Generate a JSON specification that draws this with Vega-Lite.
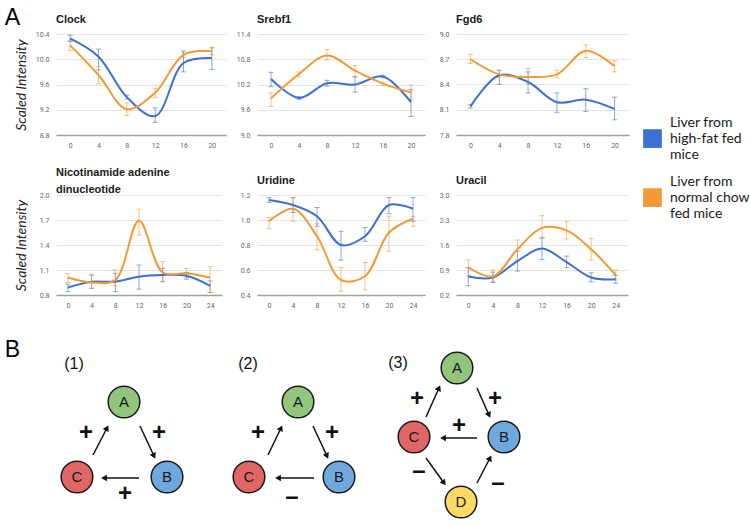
{
  "$schema": "https://vega.github.io/schema/vega-lite/v6.json",
  "padding": {"left": 4, "top": 7, "right": 0, "bottom": 0},
  "title": {"text": "A", "anchor": "start", "frame": "bounds", "font": "Liberation Sans", "fontSize": 23, "fontWeight": "normal", "color": "#000000", "offset": -34, "baseline": "alphabetic"},
  "columns": 3,
  "align": "each",
  "bounds": "flush",
  "spacing": {"row": 60, "column": 31},
  "datasets": {
    "expr": [
      {"gene":"Clock","grp":"hf","t":0,"v":10.33,"lo":10.28,"hi":10.38},
      {"gene":"Clock","grp":"hf","t":4,"v":10.04,"lo":9.83,"hi":10.16},
      {"gene":"Clock","grp":"hf","t":8,"v":9.40,"lo":9.37,"hi":9.43},
      {"gene":"Clock","grp":"hf","t":12,"v":9.10,"lo":9.00,"hi":9.23},
      {"gene":"Clock","grp":"hf","t":16,"v":9.94,"lo":9.80,"hi":10.13},
      {"gene":"Clock","grp":"hf","t":20,"v":10.02,"lo":9.84,"hi":10.18},
      {"gene":"Clock","grp":"chow","t":0,"v":10.22,"lo":10.14,"hi":10.30},
      {"gene":"Clock","grp":"chow","t":4,"v":9.75,"lo":9.61,"hi":9.88},
      {"gene":"Clock","grp":"chow","t":8,"v":9.21,"lo":9.11,"hi":9.31},
      {"gene":"Clock","grp":"chow","t":12,"v":9.47,"lo":9.39,"hi":9.54},
      {"gene":"Clock","grp":"chow","t":16,"v":10.07,"lo":10.03,"hi":10.10},
      {"gene":"Clock","grp":"chow","t":20,"v":10.13,"lo":10.07,"hi":10.19},
      {"gene":"Srebf1","grp":"hf","t":0,"v":10.33,"lo":10.15,"hi":10.49},
      {"gene":"Srebf1","grp":"hf","t":4,"v":9.88,"lo":9.85,"hi":9.91},
      {"gene":"Srebf1","grp":"hf","t":8,"v":10.23,"lo":10.16,"hi":10.30},
      {"gene":"Srebf1","grp":"hf","t":12,"v":10.20,"lo":10.02,"hi":10.38},
      {"gene":"Srebf1","grp":"hf","t":16,"v":10.39,"lo":10.36,"hi":10.42},
      {"gene":"Srebf1","grp":"hf","t":20,"v":9.78,"lo":9.44,"hi":10.08},
      {"gene":"Srebf1","grp":"chow","t":0,"v":9.87,"lo":9.68,"hi":10.00},
      {"gene":"Srebf1","grp":"chow","t":4,"v":10.45,"lo":10.38,"hi":10.50},
      {"gene":"Srebf1","grp":"chow","t":8,"v":10.89,"lo":10.78,"hi":11.03},
      {"gene":"Srebf1","grp":"chow","t":12,"v":10.53,"lo":10.39,"hi":10.65},
      {"gene":"Srebf1","grp":"chow","t":16,"v":10.22,"lo":10.18,"hi":10.26},
      {"gene":"Srebf1","grp":"chow","t":20,"v":10.01,"lo":9.85,"hi":10.19},
      {"gene":"Fgd6","grp":"hf","t":0,"v":8.14,"lo":8.12,"hi":8.16},
      {"gene":"Fgd6","grp":"hf","t":4,"v":8.51,"lo":8.40,"hi":8.57},
      {"gene":"Fgd6","grp":"hf","t":8,"v":8.43,"lo":8.30,"hi":8.55},
      {"gene":"Fgd6","grp":"hf","t":12,"v":8.19,"lo":8.07,"hi":8.30},
      {"gene":"Fgd6","grp":"hf","t":16,"v":8.22,"lo":8.08,"hi":8.35},
      {"gene":"Fgd6","grp":"hf","t":20,"v":8.11,"lo":7.98,"hi":8.25},
      {"gene":"Fgd6","grp":"chow","t":0,"v":8.70,"lo":8.65,"hi":8.76},
      {"gene":"Fgd6","grp":"chow","t":4,"v":8.52,"lo":8.49,"hi":8.57},
      {"gene":"Fgd6","grp":"chow","t":8,"v":8.49,"lo":8.41,"hi":8.59},
      {"gene":"Fgd6","grp":"chow","t":12,"v":8.52,"lo":8.48,"hi":8.57},
      {"gene":"Fgd6","grp":"chow","t":16,"v":8.80,"lo":8.72,"hi":8.87},
      {"gene":"Fgd6","grp":"chow","t":20,"v":8.62,"lo":8.55,"hi":8.68},
      {"gene":"NAD","grp":"hf","t":0,"v":0.89,"lo":0.84,"hi":0.93},
      {"gene":"NAD","grp":"hf","t":4,"v":0.96,"lo":0.88,"hi":1.04},
      {"gene":"NAD","grp":"hf","t":8,"v":0.96,"lo":0.84,"hi":1.06},
      {"gene":"NAD","grp":"hf","t":12,"v":1.02,"lo":0.87,"hi":1.16},
      {"gene":"NAD","grp":"hf","t":16,"v":1.04,"lo":0.96,"hi":1.12},
      {"gene":"NAD","grp":"hf","t":20,"v":1.03,"lo":0.99,"hi":1.07},
      {"gene":"NAD","grp":"hf","t":24,"v":0.91,"lo":0.83,"hi":0.97},
      {"gene":"NAD","grp":"chow","t":0,"v":1.01,"lo":0.95,"hi":1.06},
      {"gene":"NAD","grp":"chow","t":4,"v":0.95,"lo":0.88,"hi":1.04},
      {"gene":"NAD","grp":"chow","t":8,"v":0.98,"lo":0.91,"hi":1.10},
      {"gene":"NAD","grp":"chow","t":12,"v":1.69,"lo":1.52,"hi":1.83},
      {"gene":"NAD","grp":"chow","t":16,"v":1.07,"lo":0.96,"hi":1.20},
      {"gene":"NAD","grp":"chow","t":20,"v":1.06,"lo":1.01,"hi":1.12},
      {"gene":"NAD","grp":"chow","t":24,"v":1.01,"lo":0.83,"hi":1.14},
      {"gene":"Uridine","grp":"hf","t":0,"v":1.16,"lo":1.14,"hi":1.18},
      {"gene":"Uridine","grp":"hf","t":4,"v":1.12,"lo":1.06,"hi":1.18},
      {"gene":"Uridine","grp":"hf","t":8,"v":1.03,"lo":0.95,"hi":1.10},
      {"gene":"Uridine","grp":"hf","t":12,"v":0.80,"lo":0.68,"hi":0.91},
      {"gene":"Uridine","grp":"hf","t":16,"v":0.87,"lo":0.83,"hi":0.94},
      {"gene":"Uridine","grp":"hf","t":20,"v":1.12,"lo":1.05,"hi":1.18},
      {"gene":"Uridine","grp":"hf","t":24,"v":1.09,"lo":0.99,"hi":1.18},
      {"gene":"Uridine","grp":"chow","t":0,"v":0.99,"lo":0.93,"hi":1.02},
      {"gene":"Uridine","grp":"chow","t":4,"v":1.09,"lo":0.99,"hi":1.18},
      {"gene":"Uridine","grp":"chow","t":8,"v":0.87,"lo":0.76,"hi":0.97},
      {"gene":"Uridine","grp":"chow","t":12,"v":0.52,"lo":0.43,"hi":0.62},
      {"gene":"Uridine","grp":"chow","t":16,"v":0.55,"lo":0.44,"hi":0.66},
      {"gene":"Uridine","grp":"chow","t":20,"v":0.90,"lo":0.75,"hi":1.03},
      {"gene":"Uridine","grp":"chow","t":24,"v":1.01,"lo":0.95,"hi":1.03},
      {"gene":"Uracil","grp":"hf","t":0,"v":0.72,"lo":0.46,"hi":0.97},
      {"gene":"Uracil","grp":"hf","t":4,"v":0.69,"lo":0.55,"hi":0.84},
      {"gene":"Uracil","grp":"hf","t":8,"v":1.15,"lo":0.87,"hi":1.43},
      {"gene":"Uracil","grp":"hf","t":12,"v":1.50,"lo":1.19,"hi":1.80},
      {"gene":"Uracil","grp":"hf","t":16,"v":1.12,"lo":0.97,"hi":1.29},
      {"gene":"Uracil","grp":"hf","t":20,"v":0.69,"lo":0.57,"hi":0.82},
      {"gene":"Uracil","grp":"hf","t":24,"v":0.64,"lo":0.53,"hi":0.75},
      {"gene":"Uracil","grp":"chow","t":0,"v":0.97,"lo":0.74,"hi":1.18},
      {"gene":"Uracil","grp":"chow","t":4,"v":0.72,"lo":0.57,"hi":0.90},
      {"gene":"Uracil","grp":"chow","t":8,"v":1.48,"lo":1.18,"hi":1.74},
      {"gene":"Uracil","grp":"chow","t":12,"v":2.08,"lo":1.80,"hi":2.42},
      {"gene":"Uracil","grp":"chow","t":16,"v":2.01,"lo":1.77,"hi":2.26},
      {"gene":"Uracil","grp":"chow","t":20,"v":1.48,"lo":1.18,"hi":1.78},
      {"gene":"Uracil","grp":"chow","t":24,"v":0.76,"lo":0.62,"hi":0.90}
    ],
    "nodes": [
      {"diagram":1,"node":"A","x":68,"y":47},
      {"diagram":1,"node":"C","x":21,"y":122},
      {"diagram":1,"node":"B","x":111,"y":122},
      {"diagram":2,"node":"A","x":242,"y":47},
      {"diagram":2,"node":"C","x":193,"y":122},
      {"diagram":2,"node":"B","x":283,"y":122},
      {"diagram":3,"node":"A","x":401,"y":13},
      {"diagram":3,"node":"C","x":358,"y":82},
      {"diagram":3,"node":"B","x":448,"y":82},
      {"diagram":3,"node":"D","x":405,"y":147}
    ],
    "edges": [
      {"diagram":1,"from":"C","to":"A","x1":37,"y1":100,"x2":51,"y2":73,"angle":27.4},
      {"diagram":1,"from":"A","to":"B","x1":84,"y1":71,"x2":98,"y2":101,"angle":155},
      {"diagram":1,"from":"B","to":"C","x1":83,"y1":123,"x2":48,"y2":123,"angle":270},
      {"diagram":2,"from":"C","to":"A","x1":212,"y1":100,"x2":225,"y2":73,"angle":25.7},
      {"diagram":2,"from":"A","to":"B","x1":257,"y1":71,"x2":271,"y2":101,"angle":155},
      {"diagram":2,"from":"B","to":"C","x1":258,"y1":123,"x2":222,"y2":123,"angle":270},
      {"diagram":3,"from":"C","to":"A","x1":370,"y1":62,"x2":383,"y2":33,"angle":24.1},
      {"diagram":3,"from":"A","to":"B","x1":421,"y1":33,"x2":433,"y2":60,"angle":156},
      {"diagram":3,"from":"B","to":"C","x1":421,"y1":83,"x2":387,"y2":83,"angle":270},
      {"diagram":3,"from":"C","to":"D","x1":370,"y1":103,"x2":388,"y2":128,"angle":144.2},
      {"diagram":3,"from":"D","to":"B","x1":421,"y1":128,"x2":434,"y2":103,"angle":27.5}
    ],
    "signs": [
      {"diagram":1,"sign":"+","x":30,"y":78},
      {"diagram":1,"sign":"+","x":103,"y":78},
      {"diagram":1,"sign":"+","x":69,"y":139},
      {"diagram":2,"sign":"+","x":202,"y":78},
      {"diagram":2,"sign":"+","x":276,"y":78},
      {"diagram":2,"sign":"–","x":236,"y":142},
      {"diagram":3,"sign":"+","x":361,"y":44},
      {"diagram":3,"sign":"+","x":439,"y":44},
      {"diagram":3,"sign":"+","x":403,"y":71},
      {"diagram":3,"sign":"–","x":363,"y":116},
      {"diagram":3,"sign":"–","x":442,"y":128}
    ],
    "captions": [
      {"text":"(1)","x":18,"y":9},
      {"text":"(2)","x":192,"y":9},
      {"text":"(3)","x":342,"y":8}
    ],
    "panel": [
      {"text":"B","x":-43.5,"y":-5}
    ]
  },
  "concat": [
    {
      "width": 170, "height": 101,
      "title": {"text": "Clock"},
      "data": {"name": "expr"},
      "transform": [{"filter": "datum.gene === 'Clock'"}],
      "encoding": {
        "x": {"field": "t", "type": "quantitative", "scale": {"domain": [-2, 22], "nice": false, "zero": false}, "axis": {"values": [0, 4, 8, 12, 16, 20], "title": null}},
        "color": {"field": "grp", "type": "nominal", "scale": {"domain": ["hf", "chow"], "range": ["#3d70d4", "#f29a35"]}, "legend": {"orient": "none", "legendX": 587, "legendY": 79, "title": null, "symbolType": "M-1,0.72H1V2.72H-1Z", "symbolSize": 350, "symbolStrokeWidth": 0, "symbolOpacity": 1, "labelFont": "Lato", "labelFontSize": 14, "labelColor": "#1a1a1a", "labelOffset": 8, "rowPadding": 10, "labelLimit": 300, "labelExpr": "datum.value === 'hf' ? ['Liver from', 'high-fat fed', 'mice'] : ['Liver from', 'normal chow', 'fed mice']"}}
      },
      "layer": [
        {"mark": {"type": "errorbar", "ticks": {"size": 5}, "rule": {"strokeWidth": 1}, "opacity": 0.6},
         "encoding": {"y": {"field": "lo", "type": "quantitative", "scale": {"domain": [8.8, 10.4], "nice": false, "zero": false}, "axis": {"values": [8.8, 9.2, 9.6, 10, 10.4], "format": ".1f", "title": "Scaled Intensity", "titlePadding": 7}}, "y2": {"field": "hi"}}},
        {"mark": {"type": "line", "interpolate": "catmull-rom", "strokeWidth": 2},
         "encoding": {"y": {"field": "v", "type": "quantitative", "axis": {"values": [8.8, 9.2, 9.6, 10, 10.4], "format": ".1f", "title": "Scaled Intensity", "titlePadding": 7}}}}
      ]
    },
    {
      "width": 168, "height": 101,
      "title": {"text": "Srebf1"},
      "data": {"name": "expr"},
      "transform": [{"filter": "datum.gene === 'Srebf1'"}],
      "encoding": {
        "x": {"field": "t", "type": "quantitative", "scale": {"domain": [-2, 22], "nice": false, "zero": false}, "axis": {"values": [0, 4, 8, 12, 16, 20], "title": null}},
        "color": {"field": "grp", "type": "nominal", "scale": {"domain": ["hf", "chow"], "range": ["#3d70d4", "#f29a35"]}, "legend": {"orient": "none", "legendX": 587, "legendY": 79, "title": null, "symbolType": "M-1,0.72H1V2.72H-1Z", "symbolSize": 350, "symbolStrokeWidth": 0, "symbolOpacity": 1, "labelFont": "Lato", "labelFontSize": 14, "labelColor": "#1a1a1a", "labelOffset": 8, "rowPadding": 10, "labelLimit": 300, "labelExpr": "datum.value === 'hf' ? ['Liver from', 'high-fat fed', 'mice'] : ['Liver from', 'normal chow', 'fed mice']"}}
      },
      "layer": [
        {"mark": {"type": "errorbar", "ticks": {"size": 5}, "rule": {"strokeWidth": 1}, "opacity": 0.6},
         "encoding": {"y": {"field": "lo", "type": "quantitative", "scale": {"domain": [9.0, 11.4], "nice": false, "zero": false}, "axis": {"values": [9.0, 9.6, 10.2, 10.8, 11.4], "format": ".1f", "title": null}}, "y2": {"field": "hi"}}},
        {"mark": {"type": "line", "interpolate": "catmull-rom", "strokeWidth": 2},
         "encoding": {"y": {"field": "v", "type": "quantitative", "axis": {"values": [9.0, 9.6, 10.2, 10.8, 11.4], "format": ".1f", "title": null}}}}
      ]
    },
    {
      "width": 173, "height": 101,
      "title": {"text": "Fgd6"},
      "data": {"name": "expr"},
      "transform": [{"filter": "datum.gene === 'Fgd6'"}],
      "encoding": {
        "x": {"field": "t", "type": "quantitative", "scale": {"domain": [-2, 22], "nice": false, "zero": false}, "axis": {"values": [0, 4, 8, 12, 16, 20], "title": null}},
        "color": {"field": "grp", "type": "nominal", "scale": {"domain": ["hf", "chow"], "range": ["#3d70d4", "#f29a35"]}, "legend": {"orient": "none", "legendX": 587, "legendY": 79, "title": null, "symbolType": "M-1,0.72H1V2.72H-1Z", "symbolSize": 350, "symbolStrokeWidth": 0, "symbolOpacity": 1, "labelFont": "Lato", "labelFontSize": 14, "labelColor": "#1a1a1a", "labelOffset": 8, "rowPadding": 10, "labelLimit": 300, "labelExpr": "datum.value === 'hf' ? ['Liver from', 'high-fat fed', 'mice'] : ['Liver from', 'normal chow', 'fed mice']"}}
      },
      "layer": [
        {"mark": {"type": "errorbar", "ticks": {"size": 5}, "rule": {"strokeWidth": 1}, "opacity": 0.6},
         "encoding": {"y": {"field": "lo", "type": "quantitative", "scale": {"domain": [7.8, 9.0], "nice": false, "zero": false}, "axis": {"values": [7.8, 8.1, 8.4, 8.7, 9.0], "format": ".1f", "title": null}}, "y2": {"field": "hi"}}},
        {"mark": {"type": "line", "interpolate": "catmull-rom", "strokeWidth": 2},
         "encoding": {"y": {"field": "v", "type": "quantitative", "axis": {"values": [7.8, 8.1, 8.4, 8.7, 9.0], "format": ".1f", "title": null}}}}
      ]
    },
    {
      "width": 166, "height": 100,
      "title": {"text": ["Nicotinamide adenine", "dinucleotide"], "offset": -4, "lineHeight": 17},
      "data": {"name": "expr"},
      "transform": [{"filter": "datum.gene === 'NAD'"}],
      "encoding": {
        "x": {"field": "t", "type": "quantitative", "scale": {"domain": [-2, 26], "nice": false, "zero": false}, "axis": {"values": [0, 4, 8, 12, 16, 20, 24], "title": null}},
        "color": {"field": "grp", "type": "nominal", "scale": {"domain": ["hf", "chow"], "range": ["#3d70d4", "#f29a35"]}, "legend": {"orient": "none", "legendX": 587, "legendY": 79, "title": null, "symbolType": "M-1,0.72H1V2.72H-1Z", "symbolSize": 350, "symbolStrokeWidth": 0, "symbolOpacity": 1, "labelFont": "Lato", "labelFontSize": 14, "labelColor": "#1a1a1a", "labelOffset": 8, "rowPadding": 10, "labelLimit": 300, "labelExpr": "datum.value === 'hf' ? ['Liver from', 'high-fat fed', 'mice'] : ['Liver from', 'normal chow', 'fed mice']"}}
      },
      "layer": [
        {"mark": {"type": "errorbar", "ticks": {"size": 5}, "rule": {"strokeWidth": 1}, "opacity": 0.6},
         "encoding": {"y": {"field": "lo", "type": "quantitative", "scale": {"domain": [0.8, 2.0], "nice": false, "zero": false}, "axis": {"values": [0.8, 1.1, 1.4, 1.7, 2.0], "format": ".1f", "title": "Scaled Intensity", "titlePadding": 11}}, "y2": {"field": "hi"}}},
        {"mark": {"type": "line", "interpolate": "catmull-rom", "strokeWidth": 2},
         "encoding": {"y": {"field": "v", "type": "quantitative", "axis": {"values": [0.8, 1.1, 1.4, 1.7, 2.0], "format": ".1f", "title": "Scaled Intensity", "titlePadding": 11}}}}
      ]
    },
    {
      "width": 168, "height": 100,
      "title": {"text": "Uridine"},
      "data": {"name": "expr"},
      "transform": [{"filter": "datum.gene === 'Uridine'"}],
      "encoding": {
        "x": {"field": "t", "type": "quantitative", "scale": {"domain": [-2, 26], "nice": false, "zero": false}, "axis": {"values": [0, 4, 8, 12, 16, 20, 24], "title": null}},
        "color": {"field": "grp", "type": "nominal", "scale": {"domain": ["hf", "chow"], "range": ["#3d70d4", "#f29a35"]}, "legend": {"orient": "none", "legendX": 587, "legendY": 79, "title": null, "symbolType": "M-1,0.72H1V2.72H-1Z", "symbolSize": 350, "symbolStrokeWidth": 0, "symbolOpacity": 1, "labelFont": "Lato", "labelFontSize": 14, "labelColor": "#1a1a1a", "labelOffset": 8, "rowPadding": 10, "labelLimit": 300, "labelExpr": "datum.value === 'hf' ? ['Liver from', 'high-fat fed', 'mice'] : ['Liver from', 'normal chow', 'fed mice']"}}
      },
      "layer": [
        {"mark": {"type": "errorbar", "ticks": {"size": 5}, "rule": {"strokeWidth": 1}, "opacity": 0.6},
         "encoding": {"y": {"field": "lo", "type": "quantitative", "scale": {"domain": [0.4, 1.2], "nice": false, "zero": false}, "axis": {"values": [0.4, 0.6, 0.8, 1.0, 1.2], "format": ".1f", "title": null}}, "y2": {"field": "hi"}}},
        {"mark": {"type": "line", "interpolate": "catmull-rom", "strokeWidth": 2},
         "encoding": {"y": {"field": "v", "type": "quantitative", "axis": {"values": [0.4, 0.6, 0.8, 1.0, 1.2], "format": ".1f", "title": null}}}}
      ]
    },
    {
      "width": 172, "height": 100,
      "title": {"text": "Uracil"},
      "data": {"name": "expr"},
      "transform": [{"filter": "datum.gene === 'Uracil'"}],
      "encoding": {
        "x": {"field": "t", "type": "quantitative", "scale": {"domain": [-2, 26], "nice": false, "zero": false}, "axis": {"values": [0, 4, 8, 12, 16, 20, 24], "title": null}},
        "color": {"field": "grp", "type": "nominal", "scale": {"domain": ["hf", "chow"], "range": ["#3d70d4", "#f29a35"]}, "legend": {"orient": "none", "legendX": 587, "legendY": 79, "title": null, "symbolType": "M-1,0.72H1V2.72H-1Z", "symbolSize": 350, "symbolStrokeWidth": 0, "symbolOpacity": 1, "labelFont": "Lato", "labelFontSize": 14, "labelColor": "#1a1a1a", "labelOffset": 8, "rowPadding": 10, "labelLimit": 300, "labelExpr": "datum.value === 'hf' ? ['Liver from', 'high-fat fed', 'mice'] : ['Liver from', 'normal chow', 'fed mice']"}}
      },
      "layer": [
        {"mark": {"type": "errorbar", "ticks": {"size": 5}, "rule": {"strokeWidth": 1}, "opacity": 0.6},
         "encoding": {"y": {"field": "lo", "type": "quantitative", "scale": {"domain": [0.2, 3.0], "nice": false, "zero": false}, "axis": {"values": [0.2, 0.9, 1.6, 2.3, 3.0], "format": ".1f", "title": null}}, "y2": {"field": "hi"}}},
        {"mark": {"type": "line", "interpolate": "catmull-rom", "strokeWidth": 2},
         "encoding": {"y": {"field": "v", "type": "quantitative", "axis": {"values": [0.2, 0.9, 1.6, 2.3, 3.0], "format": ".1f", "title": null}}}}
      ]
    },
    {
      "width": 170, "height": 160,
      "layer": [
        {"data": {"name": "edges"},
         "mark": {"type": "rule", "strokeWidth": 1.5, "color": "#111111"},
         "encoding": {
           "x": {"field": "x1", "type": "quantitative", "scale": {"domain": [0, 170], "nice": false, "zero": false}, "axis": null},
           "y": {"field": "y1", "type": "quantitative", "scale": {"domain": [0, 160], "nice": false, "zero": false, "reverse": true}, "axis": null},
           "x2": {"field": "x2"}, "y2": {"field": "y2"}}},
        {"data": {"name": "edges"},
         "mark": {"type": "point", "shape": "triangle-up", "filled": true, "size": 45, "color": "#111111", "opacity": 1},
         "encoding": {
           "x": {"field": "x2", "type": "quantitative"},
           "y": {"field": "y2", "type": "quantitative"},
           "angle": {"field": "angle", "type": "quantitative", "scale": null}}},
        {"data": {"name": "nodes"},
         "mark": {"type": "circle", "size": 1000, "stroke": "#1a1a1a", "strokeWidth": 1.5, "opacity": 1},
         "encoding": {
           "x": {"field": "x", "type": "quantitative"},
           "y": {"field": "y", "type": "quantitative"},
           "fill": {"field": "node", "type": "nominal", "scale": {"domain": ["A", "B", "C", "D"], "range": ["#93c47d", "#6fa8dc", "#e06666", "#ffd966"]}, "legend": null}}},
        {"data": {"name": "nodes"},
         "mark": {"type": "text", "font": "Liberation Sans", "fontSize": 15, "color": "#1a1a1a", "baseline": "middle", "align": "center"},
         "encoding": {
           "x": {"field": "x", "type": "quantitative"},
           "y": {"field": "y", "type": "quantitative"},
           "text": {"field": "node"}}},
        {"data": {"name": "signs"},
         "mark": {"type": "text", "font": "Liberation Sans", "fontSize": 24, "fontWeight": "bold", "color": "#111111", "baseline": "middle", "align": "center"},
         "encoding": {
           "x": {"field": "x", "type": "quantitative"},
           "y": {"field": "y", "type": "quantitative"},
           "text": {"field": "sign"}}},
        {"data": {"name": "captions"},
         "mark": {"type": "text", "font": "Liberation Sans", "fontSize": 16, "color": "#111111", "baseline": "middle", "align": "center"},
         "encoding": {
           "x": {"field": "x", "type": "quantitative"},
           "y": {"field": "y", "type": "quantitative"},
           "text": {"field": "text"}}},
        {"data": {"name": "panel"},
         "mark": {"type": "text", "font": "Liberation Sans", "fontSize": 23, "color": "#000000", "baseline": "middle", "align": "center"},
         "encoding": {
           "x": {"field": "x", "type": "quantitative"},
           "y": {"field": "y", "type": "quantitative"},
           "text": {"field": "text"}}}
      ]
    }
  ],
  "config": {
    "view": {"stroke": null},
    "font": "Liberation Sans",
    "title": {"font": "Liberation Sans", "fontSize": 11, "fontWeight": "bold", "anchor": "start", "frame": "group", "color": "#1a1a1a", "offset": 5, "baseline": "alphabetic"},
    "axisX": {"domainColor": "#a0a0a0", "domainWidth": 1.5, "ticks": false, "grid": false, "labelFont": "Roboto", "labelFontSize": 7, "labelColor": "#666666", "labelPadding": 6},
    "axisY": {"domain": false, "ticks": false, "gridColor": "#e4e4e4", "labelFont": "Roboto", "labelFontSize": 7, "labelColor": "#666666", "labelPadding": 7, "titleFont": "Lato", "titleFontStyle": "italic", "titleFontWeight": "normal", "titleFontSize": 14, "titleColor": "#222222", "titlePadding": 4}
  }
}
